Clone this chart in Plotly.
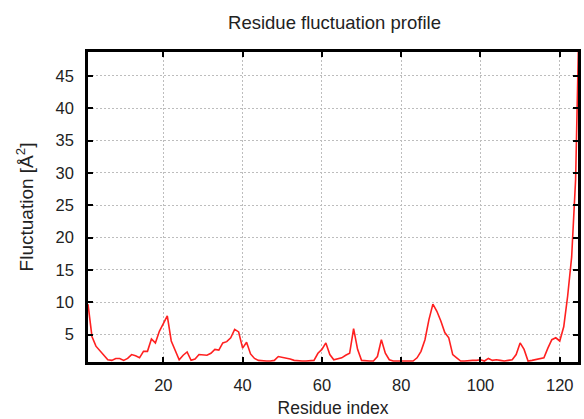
import plotly.graph_objects as go

residue = list(range(1, 126))
fluct = [
    9.7, 4.7, 3.2, 2.5, 1.8, 1.1, 1.0, 1.3, 1.3, 1.0,
    1.3, 1.9, 1.7, 1.4, 2.4, 2.4, 4.3, 3.7, 5.5, 6.8,
    7.9, 4.0, 2.6, 1.1, 1.8, 2.3, 1.0, 1.2, 1.9, 1.8,
    1.8, 2.1, 2.7, 2.6, 3.7, 3.9, 4.5, 5.8, 5.4, 2.9,
    3.8, 2.0, 1.3, 1.0, 0.9, 0.9, 0.9, 1.0, 1.6, 1.5,
    1.4, 1.2, 1.0, 0.9, 0.9, 0.9, 1.0, 1.0, 2.1, 2.7,
    3.7, 1.9, 1.1, 1.2, 1.4, 1.8, 2.1, 5.9, 2.7, 1.0,
    0.9, 0.9, 0.9, 1.6, 4.2, 2.1, 1.1, 0.9, 0.9, 0.9,
    0.9, 0.9, 0.9, 1.4, 2.4, 4.2, 7.3, 9.7, 8.6, 7.1,
    5.3, 4.5, 1.9, 1.4, 0.9, 0.9, 1.0, 1.0, 1.0, 1.1,
    0.9, 1.3, 1.0, 1.1, 1.0, 0.9, 1.0, 1.1, 1.9, 3.7,
    2.7, 0.9, 1.0, 1.1, 1.3, 1.4, 2.9, 4.2, 4.5, 4.0,
    6.2, 11.0, 17.0, 29.0, 58.0,
]
x_ticks = [20, 40, 60, 80, 100, 120]
y_ticks = [5, 10, 15, 20, 25, 30, 35, 40, 45]

FONT = "Liberation Sans, Arial, sans-serif"

fig = go.Figure()
fig.add_trace(go.Scatter(
    x=residue, y=fluct, mode="lines",
    line=dict(color="#ff2020", width=1.6),
    showlegend=False,
))

axis_common = dict(
    showline=True, linecolor="black", linewidth=2.5, mirror="ticks",
    ticks="inside", ticklen=5, tickwidth=2, tickcolor="black",
    showgrid=True, gridcolor="#bdbdbd", gridwidth=1, griddash="2px,2px",
    zeroline=False, tickfont=dict(family=FONT, size=16.5, color="#222"),
)

fig.update_layout(
    width=584, height=419,
    margin=dict(l=88, r=3, t=52, b=56),
    paper_bgcolor="white", plot_bgcolor="white",
    title=dict(text="Residue fluctuation profile", x=(88 + 581) / 2 / 584,
               xanchor="center", y=1 - 23 / 419, yanchor="middle",
               font=dict(family=FONT, size=18.5, color="#222")),
    xaxis=dict(range=[1, 124.6], tickvals=x_ticks, ticklabelstandoff=6,
               title=dict(text="Residue index", standoff=10,
                          font=dict(family=FONT, size=17.5, color="#222")),
               **axis_common),
    yaxis=dict(range=[0.75, 48.7], tickvals=y_ticks, ticklabelstandoff=8,
               title=dict(text="Fluctuation [Å<sup>2</sup>]", standoff=17,
                          font=dict(family=FONT, size=19, color="#222")),
               **axis_common),
)

fig.write_html(
    "out.html",
    config={"displayModeBar": False},
    post_script="document.body.style.margin='0';document.body.style.overflow='hidden';",
)
